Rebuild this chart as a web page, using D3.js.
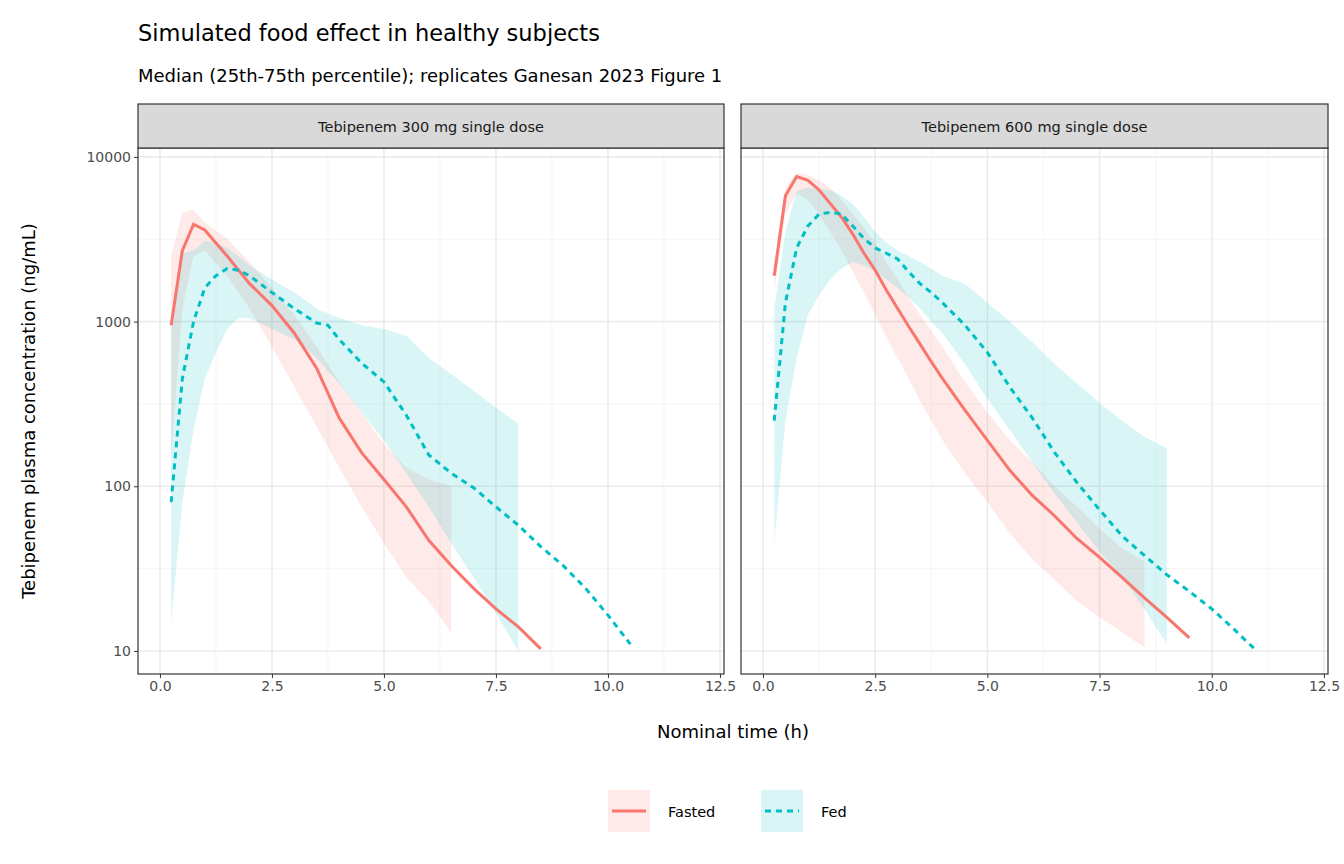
<!DOCTYPE html>
<html><head><meta charset="utf-8">
<script src="https://cdn.jsdelivr.net/npm/d3@7"></script>
<style>body{margin:0;background:#fff}text{font-family:"DejaVu Sans",sans-serif}</style>
</head><body><svg id="c" width="1344" height="864"></svg>
<script>
const panels = ["Tebipenem 300 mg single dose", "Tebipenem 600 mg single dose"];
const groups = ["Fasted", "Fed"];
const colors = ["#F8766D", "#00BFC4"];

// [time, median, lower (25th), upper (75th)] per panel and group
const fasted300 = [[0.25,950,150,2500],[0.5,2700,1200,4600],[0.75,3900,2500,4800],[1,3600,2700,4000],[1.5,2500,1900,3200],[2,1700,1200,2300],[2.5,1250,700,1600],[3,850,400,1100],[3.5,520,230,700],[4,260,130,430],[4.5,160,75,280],[5,110,45,180],[5.5,75,28,130],[6,47,20,110],[6.5,33,13,100],[7,24],[7.5,18],[8,14],[8.5,10.3]];
const fed300 = [[0.25,80,15,1000],[0.5,450,80,2600],[0.75,1000,220,2700],[1,1600,450,3100],[1.25,1900,650,3000],[1.5,2100,900,2800],[1.75,2050,1050,2500],[2,1900,1050,2200],[2.5,1500,900,1800],[3,1200,780,1500],[3.5,980,600,1200],[3.75,950,500,1120],[4,780,420,1050],[4.5,560,280,950],[5,430,190,900],[5.5,270,120,820],[6,155,75,600],[6.5,120,45,480],[7,98,28,380],[7.5,75,17,300],[8,58,10,240],[8.5,43],[9,33],[9.5,24],[10,16.5],[10.5,11]];
const fasted600 = [[0.25,1900,1500,1900],[0.5,5800,4500,6500],[0.75,7600,6000,8000],[1,7200,5500,7800],[1.25,6300,4500,7200],[1.5,5200,3500,6500],[1.75,4300,2700,5500],[2,3400,2000,4500],[2.25,2600,1500,3700],[2.5,2050,1100,3000],[2.75,1550,800,2300],[3,1200,600,1800],[3.25,930,450,1400],[3.5,730,330,1100],[3.75,570,250,880],[4,450,190,700],[4.5,290,120,430],[5,190,80,280],[5.5,125,52,190],[6,88,36,140],[6.5,66,27,100],[7,48,20,75],[7.5,37,16,55],[8,28,13,42],[8.5,21,10.5,35],[9,16],[9.5,12]];
const fed600 = [[0.25,250,45,1200],[0.5,1300,250,3500],[0.75,2800,600,6200],[1,3800,1100,6500],[1.25,4500,1450,6400],[1.5,4600,1800,6300],[1.75,4500,2100,5800],[2,3800,2300,5200],[2.25,3200,2200,4300],[2.5,2800,2000,3500],[2.75,2600,1800,3000],[3,2400,1600,2700],[3.25,2000,1400,2500],[3.5,1700,1200,2300],[3.75,1500,1000,2100],[4,1300,850,1900],[4.5,950,550,1700],[5,650,340,1300],[5.5,400,220,1000],[6,260,140,750],[6.5,160,90,550],[7,105,60,420],[7.5,72,40,320],[8,50,28,250],[8.5,38,18,200],[9,29,11,170],[9.5,23],[10,18],[10.5,13.5],[11,10]];
const series = [[fasted300, fed300], [fasted600, fed600]];

const xTicks = [0, 2.5, 5, 7.5, 10, 12.5];
const xMinor = [1.25, 3.75, 6.25, 8.75, 11.25];
const yTicks = [10, 100, 1000, 10000];
const yMinor = [Math.pow(10,1.5), Math.pow(10,2.5), Math.pow(10,3.5)];

const svg = d3.select("#c");
const yTop = 148, yBottom = 674;
const panelX = [[138, 724], [741, 1328]];
const y = d3.scaleLog().domain([Math.pow(10,0.86), Math.pow(10,4.054)]).range([yBottom, yTop]);

svg.append("text").attr("x",138).attr("y",41).attr("font-size",22.5).attr("fill","#000").text("Simulated food effect in healthy subjects");
svg.append("text").attr("x",138).attr("y",82).attr("font-size",18).attr("fill","#000").text("Median (25th-75th percentile); replicates Ganesan 2023 Figure 1");

panels.forEach((name, p) => {
  const [x0, x1] = panelX[p];
  const x = d3.scaleLinear().domain([-0.49, 12.59]).range([x0, x1]);
  const g = svg.append("g");
  g.append("rect").attr("x",x0).attr("y",yTop).attr("width",x1-x0).attr("height",yBottom-yTop).attr("fill","#fff");
  const clipId = "clip"+p;
  g.append("clipPath").attr("id",clipId).append("rect").attr("x",x0).attr("y",yTop).attr("width",x1-x0).attr("height",yBottom-yTop);
  xMinor.forEach(t => g.append("line").attr("x1",x(t)).attr("x2",x(t)).attr("y1",yTop).attr("y2",yBottom).attr("stroke","#F2F2F2").attr("stroke-width",0.8));
  yMinor.forEach(t => g.append("line").attr("x1",x0).attr("x2",x1).attr("y1",y(t)).attr("y2",y(t)).attr("stroke","#F2F2F2").attr("stroke-width",0.8));
  xTicks.forEach(t => g.append("line").attr("x1",x(t)).attr("x2",x(t)).attr("y1",yTop).attr("y2",yBottom).attr("stroke","#EBEBEB").attr("stroke-width",1.6));
  yTicks.forEach(t => g.append("line").attr("x1",x0).attr("x2",x1).attr("y1",y(t)).attr("y2",y(t)).attr("stroke","#EBEBEB").attr("stroke-width",1.6));

  const plot = g.append("g").attr("clip-path",`url(#${clipId})`);
  series[p].forEach((data, i) => {
    const band = data.filter(d => d.length === 4);
    plot.append("path").datum(band)
      .attr("d", d3.area().x(d => x(d[0])).y0(d => y(d[2])).y1(d => y(d[3])))
      .attr("fill", colors[i]).attr("fill-opacity", 0.15);
  });
  series[p].forEach((data, i) => {
    plot.append("path").datum(data)
      .attr("d", d3.line().x(d => x(d[0])).y(d => y(d[1])))
      .attr("fill","none").attr("stroke",colors[i]).attr("stroke-width",3)
      .attr("stroke-dasharray", i ? "6,5" : null);
  });

  g.append("rect").attr("x",x0).attr("y",yTop).attr("width",x1-x0).attr("height",yBottom-yTop).attr("fill","none").attr("stroke","#333").attr("stroke-width",1.2);
  g.append("rect").attr("x",x0).attr("y",104).attr("width",x1-x0).attr("height",yTop-104).attr("fill","#D9D9D9").attr("stroke","#333").attr("stroke-width",1.2);
  g.append("text").attr("x",(x0+x1)/2).attr("y",132).attr("text-anchor","middle").attr("font-size",14.5).attr("fill","#1A1A1A").text(name);

  const xa = g.append("g").attr("transform",`translate(0,${yBottom})`)
    .call(d3.axisBottom(x).tickValues(xTicks).tickFormat(d3.format(".1f")).tickSize(4).tickPadding(3));
  xa.select(".domain").remove();
  xa.selectAll("line").attr("stroke","#333");
  xa.selectAll("text").attr("font-size",14).attr("fill","#4D4D4D").style("font-family","DejaVu Sans");

  if (p === 0) {
    const ya = g.append("g").attr("transform",`translate(${x0},0)`)
      .call(d3.axisLeft(y).tickValues(yTicks).tickFormat(d3.format("d")).tickSize(4).tickPadding(3));
    ya.select(".domain").remove();
    ya.selectAll("line").attr("stroke","#333");
    ya.selectAll("text").attr("font-size",14).attr("fill","#4D4D4D").style("font-family","DejaVu Sans");
  }
});

svg.append("text").attr("x",733).attr("y",738).attr("text-anchor","middle").attr("font-size",18).text("Nominal time (h)");
svg.append("text").attr("transform",`translate(35,${(yTop+yBottom)/2}) rotate(-90)`).attr("text-anchor","middle").attr("font-size",18).text("Tebipenem plasma concentration (ng/mL)");

const legX = [608, 761];
groups.forEach((gname, i) => {
  const lg = svg.append("g").attr("transform",`translate(${legX[i]},790)`);
  lg.append("rect").attr("width",42).attr("height",42).attr("fill",colors[i]).attr("fill-opacity",0.15);
  lg.append("line").attr("x1",4).attr("x2",38).attr("y1",21).attr("y2",21).attr("stroke",colors[i]).attr("stroke-width",3).attr("stroke-dasharray", i ? "6,5" : null);
  lg.append("text").attr("x",60).attr("y",27).attr("font-size",14.5).attr("fill","#000").text(gname);
});
</script></body></html>
